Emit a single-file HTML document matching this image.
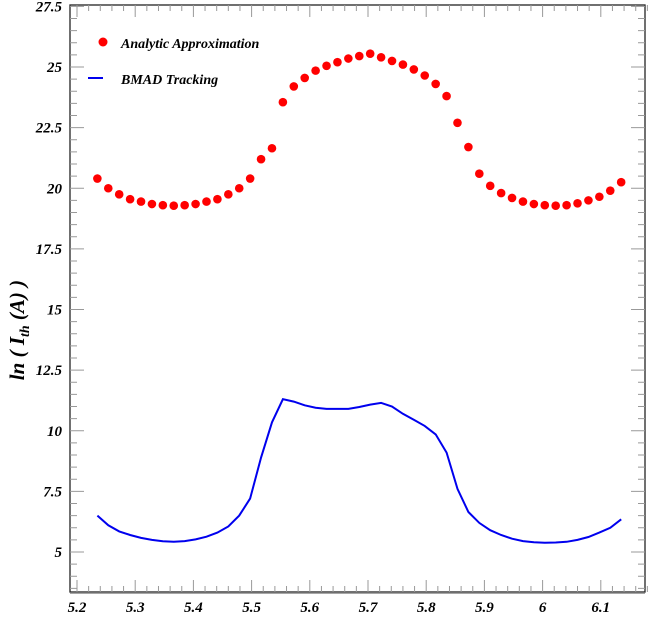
<!DOCTYPE html>
<html><head><meta charset="utf-8"><style>
body{margin:0;background:#fff;}
svg{display:block;font-family:"Liberation Serif",serif;font-weight:bold;font-style:italic;}
</style></head><body>
<svg id="c" width="651" height="618"></svg>
<script>
const xs = [];
const xStart = 5.235, xStep = 0.01875;
const analytic = [20.4,20.0,19.75,19.55,19.45,19.35,19.3,19.28,19.3,19.35,19.45,19.55,19.75,20.0,20.4,21.2,21.65,23.55,24.2,24.55,24.85,25.05,25.2,25.35,25.45,
25.55,25.4,25.25,25.1,24.9,24.65,24.3,23.8,22.7,21.7,20.6,20.1,19.8,19.6,19.45,19.35,19.3,19.28,19.3,19.38,19.5,19.65,19.9,20.25];
const bmad = [6.5,6.1,5.85,5.7,5.58,5.5,5.44,5.42,5.45,5.52,5.63,5.8,6.05,6.5,7.2,8.9,10.35,11.3,11.2,11.05,10.95,10.9,10.9,10.9,10.98,
11.08,11.15,11.0,10.7,10.45,10.2,9.85,9.1,7.6,6.65,6.2,5.9,5.7,5.55,5.45,5.4,5.38,5.39,5.42,5.5,5.62,5.8,6.0,6.35];
for(let i=0;i<analytic.length;i++) xs.push(xStart+i*xStep);
const xTicks = ["5.2","5.3","5.4","5.5","5.6","5.7","5.8","5.9","6","6.1"];
const yTicks = ["5","7.5","10","12.5","15","17.5","20","22.5","25","27.5"];

const L=70,R=645,T=5,B=592;
const X=v=>77+(v-5.2)*582;
const Y=v=>552-(v-5)*24.25;
const svg=document.getElementById('c');
const NS='http://www.w3.org/2000/svg';
function mk(t,a){const e=document.createElementNS(NS,t);for(const k in a)e.setAttribute(k,a[k]);svg.appendChild(e);return e;}

let f=mk('rect',{x:L,y:T,width:R-L,height:B-T,fill:'none',stroke:'#222','stroke-width':1.3});


let bl=mk('line',{x1:L,y1:B+1,x2:R,y2:B+1,stroke:'#888','stroke-width':1.5});



// minor ticks
for(let v=5.2;v<=6.18;v+=0.02){const x=X(v);const maj=Math.abs(Math.round(v*10)-v*10)<1e-6;const len=maj?12:6;
 let t=mk('line',{x1:x,y1:B,x2:x,y2:B-len,stroke:'#999'});
 
 
 let t2=mk('line',{x1:x,y1:T,x2:x,y2:T+len,stroke:'#999'});
 
 }
for(let v=3.5;v<=27.5;v+=0.5){const y=Y(v);const maj=Math.abs(v/2.5-Math.round(v/2.5))<1e-6;const len=maj?14:7;
 let t=mk('line',{x1:L,y1:y,x2:L+len,y2:y,stroke:'#999'});
 
 
 let t2=mk('line',{x1:R,y1:y,x2:R-len,y2:y,stroke:'#999'});
 
 }
xTicks.forEach(s=>{let t=mk('text',{x:X(parseFloat(s)),y:612,'text-anchor':'middle','font-size':15});t.textContent=s;
 
 });
yTicks.forEach(s=>{let t=mk('text',{x:62,y:Y(parseFloat(s))+5,'text-anchor':'end','font-size':15});t.textContent=s;
 
 });

let yt=mk('text',{x:0,y:0,transform:'translate(24,330) rotate(-90)','text-anchor':'middle','font-size':21});
yt.innerHTML='ln ( I<tspan font-size="14" dy="5">th</tspan><tspan dy="-5"> (A) )</tspan>';



let d=xs.map((x,i)=>(i?'L':'M')+X(x).toFixed(1)+','+Y(bmad[i]).toFixed(1)).join('');
let p=mk('path',{d:d,fill:'none',stroke:'#0000ee','stroke-width':2});


xs.forEach((x,i)=>{let c=mk('circle',{cx:X(x),cy:Y(analytic[i]),r:4.3,fill:'#ff0000'});
 
 });

let lc=mk('circle',{cx:103,cy:42,r:4.5,fill:'#ff0000'});


let lt=mk('text',{x:121,y:48,'font-size':14});lt.textContent='Analytic Approximation';


let ll=mk('line',{x1:88,y1:78,x2:103,y2:78,stroke:'#0000ee','stroke-width':2});


let lt2=mk('text',{x:121,y:84,'font-size':14});lt2.textContent='BMAD Tracking';


</script>
</body></html>
